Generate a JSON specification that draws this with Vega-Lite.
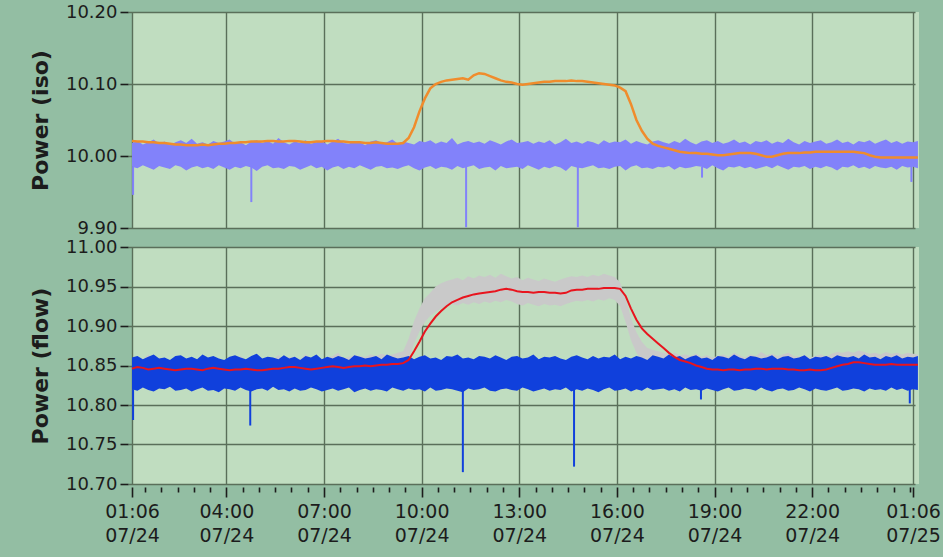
{
"$schema": "https://vega.github.io/schema/vega-lite/v6.json",
"background": "#93bea3",
"padding": {"left": 29, "top": 3, "right": 2, "bottom": 12},
"config": {
  "view": {"fill": "#c0ddc0", "stroke": null},
  "axis": {"labelFont": "DejaVu Sans", "labelFontSize": 19, "labelColor": "#1c1c1c", "tickColor": "#1c1c1c", "titleFont": "DejaVu Sans", "titleFontSize": 22, "titleFontWeight": "bold", "titleColor": "#1c1c1c", "gridColor": "#5a6f5a", "gridWidth": 1.4, "domain": false},
  "axisY": {"offset": 4, "tickSize": 8, "tickWidth": 1.6, "labelPadding": 3, "labelFontSize": 18, "format": ".2f", "minExtent": 68, "maxExtent": 68, "titlePadding": 8, "grid": true, "labelOverlap": false}
},
"bounds": "flush",
"spacing": 19,
"datasets": {
"d": [
{"t":"2010-07-24T01:06","io":10.021,"ih":10.018,"il":9.985,"fr":10.846,"fl":10.820,"fh":10.860,"gl":10.834,"gh":10.859},
{"t":"2010-07-24T01:16","io":10.020,"ih":10.021,"il":9.983,"fr":10.848,"fl":10.818,"fh":10.862,"gl":10.836,"gh":10.861},
{"t":"2010-07-24T01:26","io":10.020,"ih":10.016,"il":9.987,"fr":10.847,"fl":10.822,"fh":10.858,"gl":10.833,"gh":10.858},
{"t":"2010-07-24T01:36","io":10.019,"ih":10.019,"il":9.984,"fr":10.845,"fl":10.819,"fh":10.861,"gl":10.831,"gh":10.864},
{"t":"2010-07-24T01:46","io":10.019,"ih":10.023,"il":9.981,"fr":10.846,"fl":10.817,"fh":10.864,"gl":10.835,"gh":10.857},
{"t":"2010-07-24T01:56","io":10.018,"ih":10.017,"il":9.986,"fr":10.847,"fl":10.821,"fh":10.859,"gl":10.834,"gh":10.860},
{"t":"2010-07-24T02:06","io":10.018,"ih":10.020,"il":9.984,"fr":10.846,"fl":10.820,"fh":10.860,"gl":10.832,"gh":10.859},
{"t":"2010-07-24T02:16","io":10.017,"ih":10.015,"il":9.982,"fr":10.845,"fl":10.823,"fh":10.857,"gl":10.835,"gh":10.856},
{"t":"2010-07-24T02:26","io":10.016,"ih":10.019,"il":9.987,"fr":10.844,"fl":10.818,"fh":10.862,"gl":10.831,"gh":10.858},
{"t":"2010-07-24T02:36","io":10.016,"ih":10.022,"il":9.985,"fr":10.845,"fl":10.819,"fh":10.863,"gl":10.834,"gh":10.862},
{"t":"2010-07-24T02:46","io":10.015,"ih":10.018,"il":9.980,"fr":10.846,"fl":10.821,"fh":10.859,"gl":10.833,"gh":10.857},
{"t":"2010-07-24T02:56","io":10.015,"ih":10.024,"il":9.984,"fr":10.846,"fl":10.817,"fh":10.861,"gl":10.836,"gh":10.860},
{"t":"2010-07-24T03:06","io":10.015,"ih":10.017,"il":9.986,"fr":10.845,"fl":10.820,"fh":10.858,"gl":10.832,"gh":10.858},
{"t":"2010-07-24T03:16","io":10.016,"ih":10.019,"il":9.983,"fr":10.844,"fl":10.822,"fh":10.864,"gl":10.834,"gh":10.863},
{"t":"2010-07-24T03:26","io":10.015,"ih":10.016,"il":9.985,"fr":10.846,"fl":10.818,"fh":10.860,"gl":10.833,"gh":10.857},
{"t":"2010-07-24T03:36","io":10.016,"ih":10.021,"il":9.982,"fr":10.847,"fl":10.819,"fh":10.862,"gl":10.835,"gh":10.861},
{"t":"2010-07-24T03:46","io":10.017,"ih":10.018,"il":9.987,"fr":10.846,"fl":10.816,"fh":10.859,"gl":10.831,"gh":10.859},
{"t":"2010-07-24T03:56","io":10.017,"ih":10.020,"il":9.984,"fr":10.845,"fl":10.821,"fh":10.857,"gl":10.834,"gh":10.856},
{"t":"2010-07-24T04:06","io":10.018,"ih":10.023,"il":9.981,"fr":10.844,"fl":10.820,"fh":10.861,"gl":10.833,"gh":10.860},
{"t":"2010-07-24T04:16","io":10.018,"ih":10.017,"il":9.985,"fr":10.845,"fl":10.818,"fh":10.863,"gl":10.832,"gh":10.858},
{"t":"2010-07-24T04:26","io":10.019,"ih":10.019,"il":9.983,"fr":10.845,"fl":10.822,"fh":10.860,"gl":10.835,"gh":10.862},
{"t":"2010-07-24T04:36","io":10.019,"ih":10.015,"il":9.986,"fr":10.846,"fl":10.819,"fh":10.858,"gl":10.834,"gh":10.857},
{"t":"2010-07-24T04:46","io":10.020,"ih":10.020,"il":9.984,"fr":10.845,"fl":10.817,"fh":10.862,"gl":10.831,"gh":10.859},
{"t":"2010-07-24T04:56","io":10.020,"ih":10.022,"il":9.979,"fr":10.844,"fl":10.820,"fh":10.865,"gl":10.833,"gh":10.861},
{"t":"2010-07-24T05:06","io":10.020,"ih":10.018,"il":9.985,"fr":10.844,"fl":10.821,"fh":10.859,"gl":10.832,"gh":10.857},
{"t":"2010-07-24T05:16","io":10.021,"ih":10.021,"il":9.987,"fr":10.845,"fl":10.818,"fh":10.861,"gl":10.834,"gh":10.860},
{"t":"2010-07-24T05:26","io":10.021,"ih":10.017,"il":9.983,"fr":10.846,"fl":10.823,"fh":10.860,"gl":10.835,"gh":10.858},
{"t":"2010-07-24T05:36","io":10.020,"ih":10.025,"il":9.984,"fr":10.846,"fl":10.819,"fh":10.858,"gl":10.833,"gh":10.863},
{"t":"2010-07-24T05:46","io":10.020,"ih":10.019,"il":9.982,"fr":10.847,"fl":10.820,"fh":10.863,"gl":10.836,"gh":10.859},
{"t":"2010-07-24T05:56","io":10.021,"ih":10.016,"il":9.986,"fr":10.848,"fl":10.817,"fh":10.859,"gl":10.834,"gh":10.861},
{"t":"2010-07-24T06:06","io":10.021,"ih":10.020,"il":9.985,"fr":10.848,"fl":10.821,"fh":10.861,"gl":10.835,"gh":10.860},
{"t":"2010-07-24T06:16","io":10.020,"ih":10.018,"il":9.981,"fr":10.847,"fl":10.818,"fh":10.857,"gl":10.833,"gh":10.858},
{"t":"2010-07-24T06:26","io":10.019,"ih":10.022,"il":9.984,"fr":10.846,"fl":10.819,"fh":10.862,"gl":10.834,"gh":10.864},
{"t":"2010-07-24T06:36","io":10.019,"ih":10.017,"il":9.987,"fr":10.845,"fl":10.822,"fh":10.860,"gl":10.832,"gh":10.859},
{"t":"2010-07-24T06:46","io":10.020,"ih":10.019,"il":9.983,"fr":10.846,"fl":10.820,"fh":10.864,"gl":10.833,"gh":10.861},
{"t":"2010-07-24T06:56","io":10.020,"ih":10.021,"il":9.985,"fr":10.847,"fl":10.817,"fh":10.858,"gl":10.835,"gh":10.858},
{"t":"2010-07-24T07:06","io":10.021,"ih":10.016,"il":9.980,"fr":10.848,"fl":10.819,"fh":10.861,"gl":10.836,"gh":10.860},
{"t":"2010-07-24T07:16","io":10.021,"ih":10.020,"il":9.984,"fr":10.849,"fl":10.821,"fh":10.859,"gl":10.835,"gh":10.862},
{"t":"2010-07-24T07:26","io":10.020,"ih":10.024,"il":9.986,"fr":10.848,"fl":10.818,"fh":10.862,"gl":10.834,"gh":10.866},
{"t":"2010-07-24T07:36","io":10.020,"ih":10.018,"il":9.982,"fr":10.847,"fl":10.820,"fh":10.860,"gl":10.836,"gh":10.859},
{"t":"2010-07-24T07:46","io":10.019,"ih":10.017,"il":9.985,"fr":10.848,"fl":10.822,"fh":10.857,"gl":10.835,"gh":10.861},
{"t":"2010-07-24T07:56","io":10.019,"ih":10.021,"il":9.983,"fr":10.849,"fl":10.816,"fh":10.863,"gl":10.837,"gh":10.863},
{"t":"2010-07-24T08:06","io":10.019,"ih":10.019,"il":9.987,"fr":10.849,"fl":10.819,"fh":10.861,"gl":10.836,"gh":10.862},
{"t":"2010-07-24T08:16","io":10.018,"ih":10.015,"il":9.984,"fr":10.850,"fl":10.821,"fh":10.859,"gl":10.838,"gh":10.861},
{"t":"2010-07-24T08:26","io":10.018,"ih":10.020,"il":9.981,"fr":10.849,"fl":10.818,"fh":10.860,"gl":10.837,"gh":10.864},
{"t":"2010-07-24T08:36","io":10.019,"ih":10.022,"il":9.985,"fr":10.850,"fl":10.820,"fh":10.862,"gl":10.838,"gh":10.862},
{"t":"2010-07-24T08:46","io":10.018,"ih":10.018,"il":9.986,"fr":10.851,"fl":10.819,"fh":10.858,"gl":10.839,"gh":10.865},
{"t":"2010-07-24T08:56","io":10.017,"ih":10.019,"il":9.983,"fr":10.851,"fl":10.817,"fh":10.864,"gl":10.838,"gh":10.863},
{"t":"2010-07-24T09:06","io":10.017,"ih":10.023,"il":9.984,"fr":10.852,"fl":10.822,"fh":10.861,"gl":10.840,"gh":10.864},
{"t":"2010-07-24T09:16","io":10.017,"ih":10.017,"il":9.982,"fr":10.852,"fl":10.820,"fh":10.859,"gl":10.840,"gh":10.866},
{"t":"2010-07-24T09:26","io":10.018,"ih":10.020,"il":9.985,"fr":10.853,"fl":10.818,"fh":10.860,"gl":10.841,"gh":10.868},
{"t":"2010-07-24T09:36","io":10.025,"ih":10.018,"il":9.987,"fr":10.857,"fl":10.821,"fh":10.862,"gl":10.858,"gh":10.884},
{"t":"2010-07-24T09:46","io":10.040,"ih":10.016,"il":9.983,"fr":10.868,"fl":10.819,"fh":10.858,"gl":10.878,"gh":10.906},
{"t":"2010-07-24T09:56","io":10.062,"ih":10.021,"il":9.980,"fr":10.880,"fl":10.820,"fh":10.861,"gl":10.893,"gh":10.922},
{"t":"2010-07-24T10:06","io":10.080,"ih":10.019,"il":9.984,"fr":10.893,"fl":10.817,"fh":10.863,"gl":10.905,"gh":10.935},
{"t":"2010-07-24T10:16","io":10.094,"ih":10.022,"il":9.986,"fr":10.903,"fl":10.822,"fh":10.859,"gl":10.913,"gh":10.942},
{"t":"2010-07-24T10:26","io":10.100,"ih":10.017,"il":9.982,"fr":10.912,"fl":10.818,"fh":10.860,"gl":10.918,"gh":10.950},
{"t":"2010-07-24T10:36","io":10.103,"ih":10.020,"il":9.985,"fr":10.919,"fl":10.819,"fh":10.857,"gl":10.922,"gh":10.954},
{"t":"2010-07-24T10:46","io":10.105,"ih":10.018,"il":9.984,"fr":10.925,"fl":10.821,"fh":10.862,"gl":10.925,"gh":10.957},
{"t":"2010-07-24T10:56","io":10.106,"ih":10.025,"il":9.981,"fr":10.930,"fl":10.820,"fh":10.861,"gl":10.928,"gh":10.959},
{"t":"2010-07-24T11:06","io":10.107,"ih":10.016,"il":9.986,"fr":10.933,"fl":10.818,"fh":10.864,"gl":10.926,"gh":10.961},
{"t":"2010-07-24T11:16","io":10.108,"ih":10.019,"il":9.983,"fr":10.936,"fl":10.816,"fh":10.859,"gl":10.929,"gh":10.958},
{"t":"2010-07-24T11:26","io":10.106,"ih":10.021,"il":9.985,"fr":10.938,"fl":10.821,"fh":10.860,"gl":10.927,"gh":10.963},
{"t":"2010-07-24T11:36","io":10.112,"ih":10.018,"il":9.987,"fr":10.940,"fl":10.819,"fh":10.858,"gl":10.930,"gh":10.960},
{"t":"2010-07-24T11:46","io":10.115,"ih":10.020,"il":9.982,"fr":10.941,"fl":10.820,"fh":10.862,"gl":10.928,"gh":10.964},
{"t":"2010-07-24T11:56","io":10.114,"ih":10.017,"il":9.984,"fr":10.942,"fl":10.822,"fh":10.861,"gl":10.931,"gh":10.962},
{"t":"2010-07-24T12:06","io":10.111,"ih":10.022,"il":9.985,"fr":10.943,"fl":10.818,"fh":10.859,"gl":10.929,"gh":10.965},
{"t":"2010-07-24T12:16","io":10.108,"ih":10.019,"il":9.980,"fr":10.944,"fl":10.817,"fh":10.863,"gl":10.932,"gh":10.961},
{"t":"2010-07-24T12:26","io":10.105,"ih":10.016,"il":9.986,"fr":10.946,"fl":10.820,"fh":10.860,"gl":10.930,"gh":10.966},
{"t":"2010-07-24T12:36","io":10.103,"ih":10.020,"il":9.983,"fr":10.947,"fl":10.821,"fh":10.857,"gl":10.933,"gh":10.963},
{"t":"2010-07-24T12:46","io":10.102,"ih":10.023,"il":9.984,"fr":10.946,"fl":10.819,"fh":10.861,"gl":10.931,"gh":10.960},
{"t":"2010-07-24T12:56","io":10.100,"ih":10.018,"il":9.985,"fr":10.944,"fl":10.818,"fh":10.862,"gl":10.928,"gh":10.962},
{"t":"2010-07-24T13:06","io":10.099,"ih":10.019,"il":9.982,"fr":10.943,"fl":10.822,"fh":10.859,"gl":10.926,"gh":10.958},
{"t":"2010-07-24T13:16","io":10.100,"ih":10.021,"il":9.987,"fr":10.943,"fl":10.820,"fh":10.860,"gl":10.929,"gh":10.961},
{"t":"2010-07-24T13:26","io":10.101,"ih":10.017,"il":9.984,"fr":10.942,"fl":10.817,"fh":10.864,"gl":10.927,"gh":10.959},
{"t":"2010-07-24T13:36","io":10.102,"ih":10.020,"il":9.981,"fr":10.943,"fl":10.819,"fh":10.858,"gl":10.925,"gh":10.957},
{"t":"2010-07-24T13:46","io":10.103,"ih":10.018,"il":9.985,"fr":10.943,"fl":10.821,"fh":10.861,"gl":10.928,"gh":10.960},
{"t":"2010-07-24T13:56","io":10.103,"ih":10.022,"il":9.983,"fr":10.942,"fl":10.818,"fh":10.860,"gl":10.926,"gh":10.958},
{"t":"2010-07-24T14:06","io":10.104,"ih":10.016,"il":9.986,"fr":10.942,"fl":10.820,"fh":10.862,"gl":10.927,"gh":10.956},
{"t":"2010-07-24T14:16","io":10.104,"ih":10.019,"il":9.984,"fr":10.941,"fl":10.819,"fh":10.859,"gl":10.925,"gh":10.959},
{"t":"2010-07-24T14:26","io":10.104,"ih":10.024,"il":9.979,"fr":10.942,"fl":10.822,"fh":10.857,"gl":10.928,"gh":10.961},
{"t":"2010-07-24T14:36","io":10.105,"ih":10.018,"il":9.986,"fr":10.945,"fl":10.817,"fh":10.861,"gl":10.930,"gh":10.963},
{"t":"2010-07-24T14:46","io":10.104,"ih":10.020,"il":9.984,"fr":10.946,"fl":10.820,"fh":10.863,"gl":10.932,"gh":10.962},
{"t":"2010-07-24T14:56","io":10.104,"ih":10.017,"il":9.983,"fr":10.946,"fl":10.818,"fh":10.860,"gl":10.931,"gh":10.964},
{"t":"2010-07-24T15:06","io":10.103,"ih":10.021,"il":9.985,"fr":10.947,"fl":10.821,"fh":10.858,"gl":10.933,"gh":10.962},
{"t":"2010-07-24T15:16","io":10.102,"ih":10.019,"il":9.987,"fr":10.947,"fl":10.819,"fh":10.862,"gl":10.931,"gh":10.965},
{"t":"2010-07-24T15:26","io":10.101,"ih":10.016,"il":9.983,"fr":10.947,"fl":10.816,"fh":10.859,"gl":10.934,"gh":10.963},
{"t":"2010-07-24T15:36","io":10.100,"ih":10.022,"il":9.984,"fr":10.948,"fl":10.820,"fh":10.861,"gl":10.932,"gh":10.966},
{"t":"2010-07-24T15:46","io":10.099,"ih":10.018,"il":9.982,"fr":10.948,"fl":10.822,"fh":10.860,"gl":10.935,"gh":10.964},
{"t":"2010-07-24T15:56","io":10.098,"ih":10.020,"il":9.985,"fr":10.948,"fl":10.818,"fh":10.864,"gl":10.933,"gh":10.962},
{"t":"2010-07-24T16:06","io":10.095,"ih":10.019,"il":9.986,"fr":10.947,"fl":10.819,"fh":10.858,"gl":10.925,"gh":10.955},
{"t":"2010-07-24T16:16","io":10.090,"ih":10.023,"il":9.980,"fr":10.938,"fl":10.821,"fh":10.861,"gl":10.905,"gh":10.935},
{"t":"2010-07-24T16:26","io":10.072,"ih":10.017,"il":9.985,"fr":10.922,"fl":10.817,"fh":10.859,"gl":10.882,"gh":10.910},
{"t":"2010-07-24T16:36","io":10.050,"ih":10.021,"il":9.987,"fr":10.908,"fl":10.820,"fh":10.862,"gl":10.866,"gh":10.892},
{"t":"2010-07-24T16:46","io":10.035,"ih":10.018,"il":9.983,"fr":10.897,"fl":10.818,"fh":10.860,"gl":10.855,"gh":10.880},
{"t":"2010-07-24T16:56","io":10.024,"ih":10.016,"il":9.984,"fr":10.890,"fl":10.822,"fh":10.857,"gl":10.848,"gh":10.872},
{"t":"2010-07-24T17:06","io":10.017,"ih":10.020,"il":9.982,"fr":10.884,"fl":10.819,"fh":10.863,"gl":10.843,"gh":10.870},
{"t":"2010-07-24T17:16","io":10.014,"ih":10.022,"il":9.985,"fr":10.878,"fl":10.820,"fh":10.861,"gl":10.840,"gh":10.868},
{"t":"2010-07-24T17:26","io":10.012,"ih":10.019,"il":9.984,"fr":10.872,"fl":10.821,"fh":10.859,"gl":10.838,"gh":10.866},
{"t":"2010-07-24T17:36","io":10.010,"ih":10.017,"il":9.986,"fr":10.866,"fl":10.818,"fh":10.864,"gl":10.837,"gh":10.864},
{"t":"2010-07-24T17:46","io":10.008,"ih":10.021,"il":9.981,"fr":10.861,"fl":10.820,"fh":10.860,"gl":10.836,"gh":10.866},
{"t":"2010-07-24T17:56","io":10.006,"ih":10.018,"il":9.985,"fr":10.857,"fl":10.817,"fh":10.862,"gl":10.835,"gh":10.863},
{"t":"2010-07-24T18:06","io":10.005,"ih":10.024,"il":9.983,"fr":10.855,"fl":10.822,"fh":10.858,"gl":10.834,"gh":10.864},
{"t":"2010-07-24T18:16","io":10.004,"ih":10.019,"il":9.984,"fr":10.853,"fl":10.819,"fh":10.861,"gl":10.833,"gh":10.862},
{"t":"2010-07-24T18:26","io":10.004,"ih":10.016,"il":9.986,"fr":10.850,"fl":10.820,"fh":10.863,"gl":10.832,"gh":10.865},
{"t":"2010-07-24T18:36","io":10.003,"ih":10.020,"il":9.985,"fr":10.848,"fl":10.818,"fh":10.859,"gl":10.834,"gh":10.861},
{"t":"2010-07-24T18:46","io":10.003,"ih":10.022,"il":9.982,"fr":10.846,"fl":10.821,"fh":10.860,"gl":10.831,"gh":10.863},
{"t":"2010-07-24T18:56","io":10.002,"ih":10.018,"il":9.987,"fr":10.845,"fl":10.819,"fh":10.857,"gl":10.833,"gh":10.860},
{"t":"2010-07-24T19:06","io":10.001,"ih":10.021,"il":9.983,"fr":10.845,"fl":10.817,"fh":10.862,"gl":10.832,"gh":10.862},
{"t":"2010-07-24T19:16","io":10.001,"ih":10.017,"il":9.980,"fr":10.844,"fl":10.820,"fh":10.861,"gl":10.830,"gh":10.864},
{"t":"2010-07-24T19:26","io":10.002,"ih":10.019,"il":9.985,"fr":10.845,"fl":10.822,"fh":10.859,"gl":10.833,"gh":10.861},
{"t":"2010-07-24T19:36","io":10.003,"ih":10.023,"il":9.984,"fr":10.845,"fl":10.818,"fh":10.864,"gl":10.832,"gh":10.866},
{"t":"2010-07-24T19:46","io":10.004,"ih":10.018,"il":9.986,"fr":10.844,"fl":10.819,"fh":10.860,"gl":10.831,"gh":10.863},
{"t":"2010-07-24T19:56","io":10.004,"ih":10.020,"il":9.983,"fr":10.845,"fl":10.821,"fh":10.858,"gl":10.834,"gh":10.860},
{"t":"2010-07-24T20:06","io":10.004,"ih":10.016,"il":9.985,"fr":10.845,"fl":10.820,"fh":10.862,"gl":10.833,"gh":10.864},
{"t":"2010-07-24T20:16","io":10.003,"ih":10.021,"il":9.982,"fr":10.846,"fl":10.818,"fh":10.861,"gl":10.834,"gh":10.862},
{"t":"2010-07-24T20:26","io":10.001,"ih":10.019,"il":9.984,"fr":10.846,"fl":10.822,"fh":10.859,"gl":10.835,"gh":10.867},
{"t":"2010-07-24T20:36","io":9.999,"ih":10.022,"il":9.986,"fr":10.845,"fl":10.819,"fh":10.860,"gl":10.833,"gh":10.863},
{"t":"2010-07-24T20:46","io":9.999,"ih":10.017,"il":9.983,"fr":10.846,"fl":10.817,"fh":10.863,"gl":10.834,"gh":10.865},
{"t":"2010-07-24T20:56","io":10.001,"ih":10.020,"il":9.987,"fr":10.846,"fl":10.820,"fh":10.858,"gl":10.835,"gh":10.862},
{"t":"2010-07-24T21:06","io":10.003,"ih":10.018,"il":9.984,"fr":10.846,"fl":10.821,"fh":10.861,"gl":10.834,"gh":10.864},
{"t":"2010-07-24T21:16","io":10.004,"ih":10.024,"il":9.981,"fr":10.845,"fl":10.818,"fh":10.862,"gl":10.833,"gh":10.866},
{"t":"2010-07-24T21:26","io":10.004,"ih":10.019,"il":9.985,"fr":10.845,"fl":10.819,"fh":10.859,"gl":10.832,"gh":10.862},
{"t":"2010-07-24T21:36","io":10.004,"ih":10.016,"il":9.984,"fr":10.844,"fl":10.822,"fh":10.860,"gl":10.831,"gh":10.861},
{"t":"2010-07-24T21:46","io":10.005,"ih":10.021,"il":9.986,"fr":10.844,"fl":10.820,"fh":10.863,"gl":10.832,"gh":10.863},
{"t":"2010-07-24T21:56","io":10.005,"ih":10.018,"il":9.982,"fr":10.845,"fl":10.817,"fh":10.858,"gl":10.833,"gh":10.860},
{"t":"2010-07-24T22:06","io":10.006,"ih":10.020,"il":9.985,"fr":10.844,"fl":10.821,"fh":10.861,"gl":10.832,"gh":10.862},
{"t":"2010-07-24T22:16","io":10.006,"ih":10.022,"il":9.983,"fr":10.844,"fl":10.819,"fh":10.860,"gl":10.831,"gh":10.864},
{"t":"2010-07-24T22:26","io":10.006,"ih":10.017,"il":9.986,"fr":10.845,"fl":10.818,"fh":10.862,"gl":10.833,"gh":10.861},
{"t":"2010-07-24T22:36","io":10.006,"ih":10.019,"il":9.984,"fr":10.847,"fl":10.820,"fh":10.859,"gl":10.835,"gh":10.865},
{"t":"2010-07-24T22:46","io":10.006,"ih":10.023,"il":9.980,"fr":10.849,"fl":10.822,"fh":10.863,"gl":10.837,"gh":10.867},
{"t":"2010-07-24T22:56","io":10.006,"ih":10.018,"il":9.985,"fr":10.851,"fl":10.818,"fh":10.861,"gl":10.839,"gh":10.866},
{"t":"2010-07-24T23:06","io":10.006,"ih":10.020,"il":9.984,"fr":10.852,"fl":10.819,"fh":10.860,"gl":10.840,"gh":10.868},
{"t":"2010-07-24T23:16","io":10.006,"ih":10.016,"il":9.987,"fr":10.854,"fl":10.821,"fh":10.862,"gl":10.841,"gh":10.866},
{"t":"2010-07-24T23:26","io":10.005,"ih":10.021,"il":9.983,"fr":10.854,"fl":10.820,"fh":10.859,"gl":10.842,"gh":10.869},
{"t":"2010-07-24T23:36","io":10.004,"ih":10.019,"il":9.985,"fr":10.853,"fl":10.817,"fh":10.864,"gl":10.840,"gh":10.867},
{"t":"2010-07-24T23:46","io":10.001,"ih":10.022,"il":9.982,"fr":10.852,"fl":10.821,"fh":10.860,"gl":10.839,"gh":10.865},
{"t":"2010-07-24T23:56","io":9.999,"ih":10.017,"il":9.986,"fr":10.851,"fl":10.819,"fh":10.861,"gl":10.838,"gh":10.866},
{"t":"2010-07-25T00:06","io":9.998,"ih":10.020,"il":9.984,"fr":10.851,"fl":10.820,"fh":10.858,"gl":10.839,"gh":10.864},
{"t":"2010-07-25T00:16","io":9.998,"ih":10.023,"il":9.983,"fr":10.851,"fl":10.818,"fh":10.862,"gl":10.838,"gh":10.867},
{"t":"2010-07-25T00:26","io":9.998,"ih":10.018,"il":9.985,"fr":10.852,"fl":10.822,"fh":10.860,"gl":10.840,"gh":10.865},
{"t":"2010-07-25T00:36","io":9.998,"ih":10.021,"il":9.981,"fr":10.851,"fl":10.819,"fh":10.863,"gl":10.839,"gh":10.866},
{"t":"2010-07-25T00:46","io":9.998,"ih":10.017,"il":9.986,"fr":10.851,"fl":10.821,"fh":10.859,"gl":10.838,"gh":10.864},
{"t":"2010-07-25T00:56","io":9.998,"ih":10.020,"il":9.984,"fr":10.851,"fl":10.818,"fh":10.861,"gl":10.839,"gh":10.866},
{"t":"2010-07-25T01:06","io":9.998,"ih":10.019,"il":9.985,"fr":10.851,"fl":10.820,"fh":10.860,"gl":10.838,"gh":10.865},
{"t":"2010-07-25T01:15","io":9.998,"ih":10.021,"il":9.983,"fr":10.851,"fl":10.819,"fh":10.862,"gl":10.839,"gh":10.864}
],
"si": [
{"t":"2010-07-24T01:08","lo":9.946,"hi":9.985},
{"t":"2010-07-24T04:46","lo":9.936,"hi":9.985},
{"t":"2010-07-24T11:22","lo":9.901,"hi":9.985},
{"t":"2010-07-24T14:48","lo":9.901,"hi":9.985},
{"t":"2010-07-24T18:37","lo":9.970,"hi":9.985},
{"t":"2010-07-25T01:03","lo":9.964,"hi":9.985}
],
"sf": [
{"t":"2010-07-24T01:08","lo":10.781,"hi":10.82},
{"t":"2010-07-24T04:44","lo":10.774,"hi":10.82},
{"t":"2010-07-24T11:16","lo":10.715,"hi":10.82},
{"t":"2010-07-24T14:41","lo":10.722,"hi":10.82},
{"t":"2010-07-24T18:35","lo":10.807,"hi":10.82},
{"t":"2010-07-25T01:00","lo":10.802,"hi":10.82}
]
},
"vconcat": [
{
  "width": 787, "height": 216,
  "encoding": {
    "x": {"field": "t", "type": "temporal",
      "scale": {"domain": [{"year":2010,"month":7,"date":24,"hours":1,"minutes":6},{"year":2010,"month":7,"date":25,"hours":1,"minutes":17}]},
      "axis": {"title": null, "labels": false, "ticks": false, "domain": false, "grid": true,
        "values": [{"year":2010,"month":7,"date":24,"hours":1,"minutes":6},{"year":2010,"month":7,"date":24,"hours":4,"minutes":0},{"year":2010,"month":7,"date":24,"hours":7,"minutes":0},{"year":2010,"month":7,"date":24,"hours":10,"minutes":0},{"year":2010,"month":7,"date":24,"hours":13,"minutes":0},{"year":2010,"month":7,"date":24,"hours":16,"minutes":0},{"year":2010,"month":7,"date":24,"hours":19,"minutes":0},{"year":2010,"month":7,"date":24,"hours":22,"minutes":0},{"year":2010,"month":7,"date":25,"hours":1,"minutes":6}]}}
  },
  "layer": [
    {"data": {"name": "d"}, "mark": {"type": "area", "color": "#8282fa", "opacity": 1},
     "encoding": {"y": {"field": "ih", "type": "quantitative", "title": "Power (iso)", "scale": {"domain": [9.9, 10.2], "nice": false, "zero": false}, "axis": {"values": [9.9, 10.0, 10.1, 10.2], "labelOverlap": false}}, "y2": {"field": "il"}}},
    {"data": {"name": "si"}, "mark": {"type": "rule", "color": "#8282fa", "strokeWidth": 2},
     "encoding": {"y": {"field": "lo", "type": "quantitative", "title": "Power (iso)", "scale": {"domain": [9.9, 10.2], "nice": false, "zero": false}, "axis": {"values": [9.9, 10.0, 10.1, 10.2], "labelOverlap": false}}, "y2": {"field": "hi"}}},
    {"data": {"name": "d"}, "mark": {"type": "line", "color": "#f08c2c", "strokeWidth": 2.5},
     "encoding": {"y": {"field": "io", "type": "quantitative", "title": "Power (iso)", "scale": {"domain": [9.9, 10.2], "nice": false, "zero": false}, "axis": {"values": [9.9, 10.0, 10.1, 10.2], "labelOverlap": false}}}}
  ]
},
{
  "width": 787, "height": 237,
  "encoding": {
    "x": {"field": "t", "type": "temporal",
      "scale": {"domain": [{"year":2010,"month":7,"date":24,"hours":1,"minutes":6},{"year":2010,"month":7,"date":25,"hours":1,"minutes":17}]},
      "axis": {"title": null, "domain": false, "grid": true, "offset": 3, "labelOverlap": false, "labelFlush": false, "labelBound": false, "labelPadding": 5, "labelLineHeight": 24, "tickWidth": 1.6,
        "labelExpr": "(minutes(datum.value)==6 || (minutes(datum.value)==0 && hours(datum.value)%3==1 && hours(datum.value)>1)) ? [timeFormat(datum.value,'%H:%M'), timeFormat(datum.value,'%m/%d')] : ''",
        "tickSize": {"condition": {"test": "minutes(datum.value)==6 || (minutes(datum.value)==0 && hours(datum.value)%3==1 && hours(datum.value)>1)", "value": 10}, "value": 5},
        "gridOpacity": {"condition": {"test": "minutes(datum.value)==6 || (minutes(datum.value)==0 && hours(datum.value)%3==1 && hours(datum.value)>1)", "value": 1}, "value": 0},
        "values": [
{"year":2010,"month":7,"date":24,"hours":1,"minutes":6},
{"year":2010,"month":7,"date":24,"hours":1,"minutes":30},
{"year":2010,"month":7,"date":24,"hours":2,"minutes":0},
{"year":2010,"month":7,"date":24,"hours":2,"minutes":30},
{"year":2010,"month":7,"date":24,"hours":3,"minutes":0},
{"year":2010,"month":7,"date":24,"hours":3,"minutes":30},
{"year":2010,"month":7,"date":24,"hours":4,"minutes":0},
{"year":2010,"month":7,"date":24,"hours":4,"minutes":30},
{"year":2010,"month":7,"date":24,"hours":5,"minutes":0},
{"year":2010,"month":7,"date":24,"hours":5,"minutes":30},
{"year":2010,"month":7,"date":24,"hours":6,"minutes":0},
{"year":2010,"month":7,"date":24,"hours":6,"minutes":30},
{"year":2010,"month":7,"date":24,"hours":7,"minutes":0},
{"year":2010,"month":7,"date":24,"hours":7,"minutes":30},
{"year":2010,"month":7,"date":24,"hours":8,"minutes":0},
{"year":2010,"month":7,"date":24,"hours":8,"minutes":30},
{"year":2010,"month":7,"date":24,"hours":9,"minutes":0},
{"year":2010,"month":7,"date":24,"hours":9,"minutes":30},
{"year":2010,"month":7,"date":24,"hours":10,"minutes":0},
{"year":2010,"month":7,"date":24,"hours":10,"minutes":30},
{"year":2010,"month":7,"date":24,"hours":11,"minutes":0},
{"year":2010,"month":7,"date":24,"hours":11,"minutes":30},
{"year":2010,"month":7,"date":24,"hours":12,"minutes":0},
{"year":2010,"month":7,"date":24,"hours":12,"minutes":30},
{"year":2010,"month":7,"date":24,"hours":13,"minutes":0},
{"year":2010,"month":7,"date":24,"hours":13,"minutes":30},
{"year":2010,"month":7,"date":24,"hours":14,"minutes":0},
{"year":2010,"month":7,"date":24,"hours":14,"minutes":30},
{"year":2010,"month":7,"date":24,"hours":15,"minutes":0},
{"year":2010,"month":7,"date":24,"hours":15,"minutes":30},
{"year":2010,"month":7,"date":24,"hours":16,"minutes":0},
{"year":2010,"month":7,"date":24,"hours":16,"minutes":30},
{"year":2010,"month":7,"date":24,"hours":17,"minutes":0},
{"year":2010,"month":7,"date":24,"hours":17,"minutes":30},
{"year":2010,"month":7,"date":24,"hours":18,"minutes":0},
{"year":2010,"month":7,"date":24,"hours":18,"minutes":30},
{"year":2010,"month":7,"date":24,"hours":19,"minutes":0},
{"year":2010,"month":7,"date":24,"hours":19,"minutes":30},
{"year":2010,"month":7,"date":24,"hours":20,"minutes":0},
{"year":2010,"month":7,"date":24,"hours":20,"minutes":30},
{"year":2010,"month":7,"date":24,"hours":21,"minutes":0},
{"year":2010,"month":7,"date":24,"hours":21,"minutes":30},
{"year":2010,"month":7,"date":24,"hours":22,"minutes":0},
{"year":2010,"month":7,"date":24,"hours":22,"minutes":30},
{"year":2010,"month":7,"date":24,"hours":23,"minutes":0},
{"year":2010,"month":7,"date":24,"hours":23,"minutes":30},
{"year":2010,"month":7,"date":25,"hours":0,"minutes":0},
{"year":2010,"month":7,"date":25,"hours":0,"minutes":30},
{"year":2010,"month":7,"date":25,"hours":1,"minutes":0},
{"year":2010,"month":7,"date":25,"hours":1,"minutes":6}
        ]}}
  },
  "layer": [
    {"data": {"name": "d"}, "mark": {"type": "area", "color": "#c9c9c9", "opacity": 1},
     "encoding": {"y": {"field": "gh", "type": "quantitative", "title": "Power (flow)", "scale": {"domain": [10.7, 11.0], "nice": false, "zero": false}, "axis": {"values": [10.7, 10.75, 10.8, 10.85, 10.9, 10.95, 11.0], "labelOverlap": false}}, "y2": {"field": "gl"}}},
    {"data": {"name": "d"}, "mark": {"type": "area", "color": "#1040dc", "opacity": 1},
     "encoding": {"y": {"field": "fh", "type": "quantitative", "title": "Power (flow)", "scale": {"domain": [10.7, 11.0], "nice": false, "zero": false}, "axis": {"values": [10.7, 10.75, 10.8, 10.85, 10.9, 10.95, 11.0], "labelOverlap": false}}, "y2": {"field": "fl"}}},
    {"data": {"name": "sf"}, "mark": {"type": "rule", "color": "#1040dc", "strokeWidth": 2},
     "encoding": {"y": {"field": "lo", "type": "quantitative", "title": "Power (flow)", "scale": {"domain": [10.7, 11.0], "nice": false, "zero": false}, "axis": {"values": [10.7, 10.75, 10.8, 10.85, 10.9, 10.95, 11.0], "labelOverlap": false}}, "y2": {"field": "hi"}}},
    {"data": {"name": "d"}, "mark": {"type": "line", "color": "#e8141e", "strokeWidth": 2},
     "encoding": {"y": {"field": "fr", "type": "quantitative", "title": "Power (flow)", "scale": {"domain": [10.7, 11.0], "nice": false, "zero": false}, "axis": {"values": [10.7, 10.75, 10.8, 10.85, 10.9, 10.95, 11.0], "labelOverlap": false}}}}
  ]
}
]
}
